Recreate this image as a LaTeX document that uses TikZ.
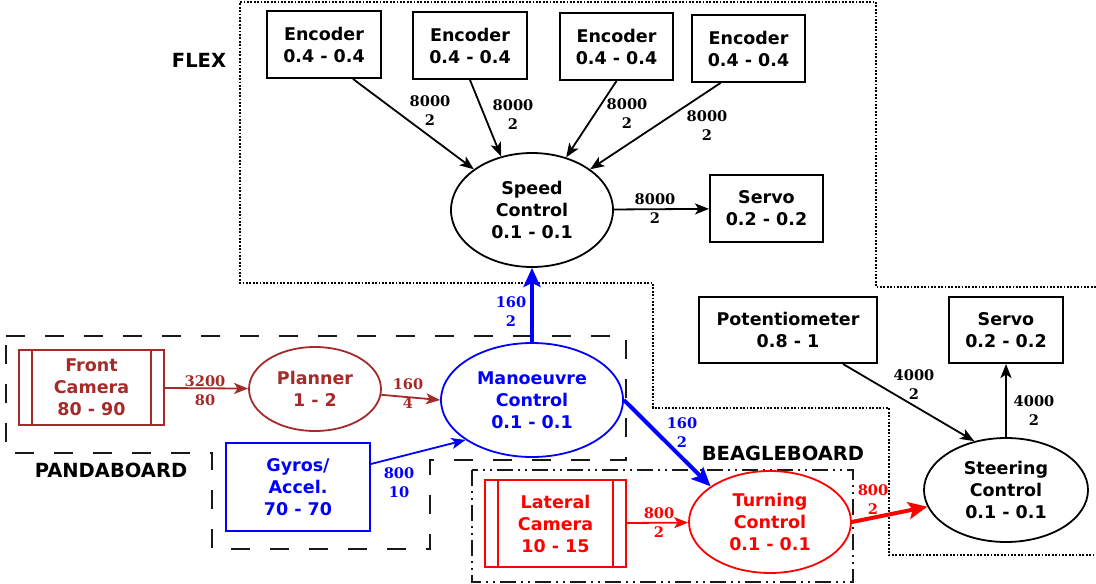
\documentclass[tikz,border=0pt]{standalone}
\usepackage{fontspec}
\setmainfont{DejaVu Sans}
\newfontfamily\lblfamily{DejaVu Serif}
\usetikzlibrary{arrows.meta,shapes.geometric,calc}
\definecolor{cbrown}{RGB}{165,42,42}
\definecolor{cblue}{RGB}{0,0,255}
\definecolor{cred}{RGB}{255,0,0}
\definecolor{cgray}{RGB}{25,25,25}
\begin{document}
\begin{tikzpicture}[x=1pt,y=-1pt,
  nodetext/.style={font=\fontsize{17.5}{22}\selectfont\bfseries, align=center},
  box/.style={nodetext, draw, rectangle, line width=2pt, inner sep=0pt},
  oval/.style={nodetext, draw, ellipse, line width=1.8pt, inner sep=0pt},
  lbl/.style={font=\lblfamily\fontsize{14.6}{19}\selectfont\bfseries, align=center, inner sep=0pt},
  board/.style={font=\fontsize{19.5}{22}\selectfont\bfseries, inner sep=0pt},
  conn/.style={line width=1.8pt, -{Stealth[length=14pt,width=11pt,inset=3.5pt]}},
  thickconn/.style={line width=4pt, -{Stealth[length=19pt,width=17pt,inset=4pt]}},
  flexline/.style={line width=2pt, dash pattern=on 1.8pt off 1.6pt},
  pandaline/.style={line width=2.2pt, cgray, dash pattern=on 19pt off 20pt},
  beagleline/.style={line width=2.2pt, cgray, dash pattern=on 16pt off 5pt on 2pt off 5pt on 2pt off 5pt},
]
\useasboundingbox (0,0) rectangle (1096,584);

% regions
\draw[flexline] (1096,287) -- (876,287) -- (876,2) -- (240,2) -- (240,283) -- (653,283) -- (653,408) -- (889,408) -- (889,555) -- (1096,555);
\draw[pandaline] (6,336) -- (626,336) -- (626,460) -- (430,460) -- (430,549) -- (212,549) -- (212,453) -- (6,453) -- cycle;
\draw[beagleline] (472,470) rectangle (853,582);

\node[board] (flexlbl) at (199,60) {FLEX};
\node[board] (pandalbl) at (111,470) {PANDABOARD};
\node[board] (beaglelbl) at (783,453) {BEAGLEBOARD};

% nodes
\node[box, minimum width=114pt, minimum height=67pt] (enc1) at (324,44.5) {Encoder\\0.4 - 0.4};
\node[box, minimum width=114pt, minimum height=67pt] (enc2) at (470,45.5) {Encoder\\0.4 - 0.4};
\node[box, minimum width=113pt, minimum height=67pt] (enc3) at (616.5,46.5) {Encoder\\0.4 - 0.4};
\node[box, minimum width=113pt, minimum height=67pt] (enc4) at (748.5,48.5) {Encoder\\0.4 - 0.4};
\node[oval, minimum width=162pt, minimum height=114pt] (speed) at (532,210) {Speed\\Control\\0.1 - 0.1};
\node[box, minimum width=113pt, minimum height=67pt] (servo1) at (766.5,208.5) {Servo\\0.2 - 0.2};
\node[box, minimum width=178pt, minimum height=66pt] (pot) at (788,330) {Potentiometer\\0.8 - 1};
\node[box, minimum width=114pt, minimum height=66pt] (servo2) at (1006,330) {Servo\\0.2 - 0.2};
\node[oval, minimum width=164pt, minimum height=104pt] (steer) at (1006,490) {Steering\\Control\\0.1 - 0.1};
\node[oval, cred, minimum width=162pt, minimum height=102pt] (turn) at (770,522) {Turning\\Control\\0.1 - 0.1};
\node[box, cred, line width=1.8pt, minimum width=141pt, minimum height=87pt] (lat) at (555.5,523.5) {Lateral\\Camera\\10 - 15};
\node[oval, cblue, minimum width=182pt, minimum height=114pt] (man) at (532,400) {Manoeuvre\\Control\\0.1 - 0.1};
\node[oval, cbrown, minimum width=132pt, minimum height=84pt] (planner) at (315,389) {Planner\\1 - 2};
\node[box, cbrown, line width=1.8pt, minimum width=145pt, minimum height=75pt] (fc) at (91.5,387.5) {Front\\Camera\\80 - 90};
\node[box, cblue, line width=1.8pt, minimum width=144pt, minimum height=88pt] (gyros) at (298,487) {Gyros/\\Accel.\\70 - 70};

% double bars
\draw[cbrown, line width=1.8pt] ($(fc.north west)+(14,0)$) -- ($(fc.south west)+(14,0)$);
\draw[cbrown, line width=1.8pt] ($(fc.north east)+(-14,0)$) -- ($(fc.south east)+(-14,0)$);
\draw[cred, line width=1.8pt] ($(lat.north west)+(14,0)$) -- ($(lat.south west)+(14,0)$);
\draw[cred, line width=1.8pt] ($(lat.north east)+(-14,0)$) -- ($(lat.south east)+(-14,0)$);

% connectors
\draw[conn] ($(enc1.south)+(29,0)$) -- (speed.145);
\draw[conn] (enc2.south) -- (speed.120);
\draw[conn] (enc3.south) -- (speed.57);
\draw[conn] ($(enc4.south)+(-28,0)$) -- (speed.35);
\draw[conn] (speed) -- (servo1);
\draw[conn, cbrown] (fc) -- (planner);
\draw[conn, cbrown] (planner.355) -- (man.west);
\draw[conn, cblue] ($(gyros.east)+(0,-23)$) -- (man.211);
\draw[thickconn, cblue] (man.north) -- (speed.south);
\draw[thickconn, cblue] (man.east) -- (turn.149);
\draw[conn, cred] (lat) -- (turn);
\draw[thickconn, cred] (turn.east) -- (steer.192);
\draw[conn] ($(pot.south)+(55,0)$) -- (steer.123);
\draw[conn] (steer.north) -- (servo2.south);

% labels
\node[lbl] (l1) at (430,111) {8000\\2};
\node[lbl] (l2) at (513,115) {8000\\2};
\node[lbl] (l3) at (627,114) {8000\\2};
\node[lbl] (l4) at (707,126) {8000\\2};
\node[lbl] (l5) at (655,209) {8000\\2};
\node[lbl, cbrown] (l6) at (205,391) {3200\\80};
\node[lbl, cbrown] (l7) at (408,394) {160\\4};
\node[lbl, cblue] (l8) at (399,483) {800\\10};
\node[lbl, cblue] (l9) at (511,312) {160\\2};
\node[lbl, cblue] (l10) at (682,433) {160\\2};
\node[lbl, cred] (l11) at (659,523) {800\\2};
\node[lbl, cred] (l12) at (873,500) {800\\2};
\node[lbl] (l13) at (914,385) {4000\\2};
\node[lbl] (l14) at (1034,411) {4000\\2};
\end{tikzpicture}
\end{document}
